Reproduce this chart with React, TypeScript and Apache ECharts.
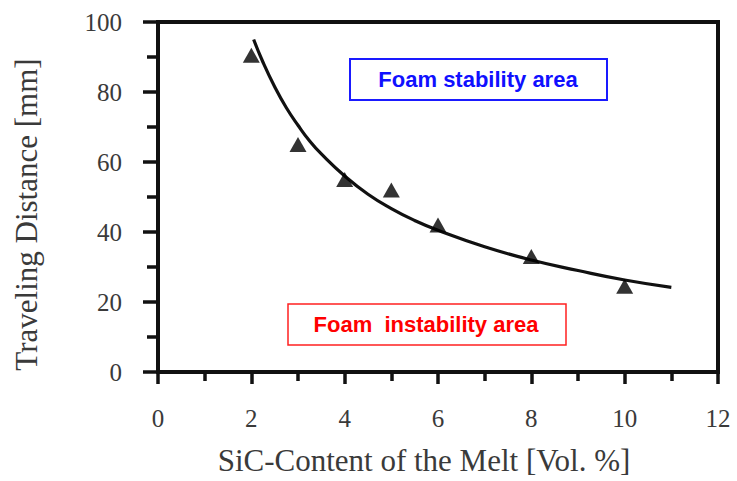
import React, { useEffect, useRef } from "react";
import * as echarts from "echarts";

// Measured points (triangles)
const pointX = [2, 3, 4, 5, 6, 8, 10];
const pointY = [90.5, 65, 55, 52, 42, 33, 24.5];

// Fitted curve
const curveX = [2.05, 2.25, 2.5, 2.75, 3, 3.25, 3.5, 4, 4.5, 5, 5.5, 6, 7, 8, 9, 10, 11];
const curveY = [95, 88.5, 81.5, 75.5, 70.5, 66, 62.3, 56, 50.8, 46.7, 43.3, 40.5, 35.8, 32, 29, 26.3, 24.2];

const xTicks = [0, 2, 4, 6, 8, 10, 12];
const yTicks = [0, 20, 40, 60, 80, 100];

const xTitle = "SiC-Content of the Melt [Vol. %]";
const yTitle = "Traveling Distance [mm]";
const stableLabel = "Foam stability area";
const unstableLabel = "Foam  instability area";

const SERIF = "'Liberation Serif', 'Times New Roman', serif";
const SANS = "'Liberation Sans', Arial, sans-serif";

export default function App() {
  const ref = useRef<HTMLDivElement>(null);

  useEffect(() => {
    if (!ref.current) return;
    const chart = echarts.init(ref.current, undefined, { renderer: "svg" });
    const curve = curveX.map((x, i) => [x, curveY[i]]);
    const pts = pointX.map((x, i) => [x, pointY[i]]);

    chart.setOption({
      animation: false,
      backgroundColor: "#ffffff",
      grid: {
        left: 158,
        right: 19,
        top: 22,
        bottom: 108,
        show: true,
        borderColor: "#111",
        borderWidth: 4,
        backgroundColor: "transparent",
      },
      xAxis: {
        type: "value",
        min: xTicks[0],
        max: xTicks[xTicks.length - 1],
        interval: 2,
        name: xTitle,
        nameLocation: "middle",
        nameGap: 73,
        nameTextStyle: {
          fontFamily: SERIF,
          fontSize: 31,
          color: "#3a3a3a",
          padding: [0, 28, 0, 0],
        },
        axisLine: { show: true, lineStyle: { color: "#111", width: 3 } },
        axisTick: { show: true, inside: false, length: 12, lineStyle: { color: "#111", width: 3.5 } },
        minorTick: { show: true, splitNumber: 2, length: 9, lineStyle: { color: "#111", width: 3.5 } },
        splitLine: { show: false },
        axisLabel: {
          fontFamily: SERIF,
          fontSize: 25,
          color: "#3a3a3a",
          margin: 34,
        },
      },
      yAxis: {
        type: "value",
        min: yTicks[0],
        max: yTicks[yTicks.length - 1],
        interval: 20,
        name: yTitle,
        nameLocation: "middle",
        nameGap: 116,
        nameRotate: 90,
        nameTextStyle: {
          fontFamily: SERIF,
          fontSize: 31,
          color: "#3a3a3a",
          padding: [0, 35, 0, 0],
        },
        axisLine: { show: true, lineStyle: { color: "#111", width: 4 } },
        axisTick: { show: true, inside: false, length: 15, lineStyle: { color: "#111", width: 3.5 } },
        minorTick: { show: true, splitNumber: 2, length: 11, lineStyle: { color: "#111", width: 3.5 } },
        splitLine: { show: false },
        axisLabel: {
          fontFamily: SERIF,
          fontSize: 25,
          color: "#3a3a3a",
          margin: 36,
        },
      },
      series: [
        {
          type: "line",
          data: curve,
          smooth: true,
          showSymbol: false,
          lineStyle: { color: "#111", width: 3.2 },
          z: 2,
        },
        {
          type: "scatter",
          data: pts,
          symbol: "triangle",
          symbolSize: [17, 15],
          itemStyle: { color: "#000" },
          z: 3,
        },
      ],
      graphic: [
        {
          type: "rect",
          shape: { x: 350, y: 59, width: 257, height: 41 },
          style: { fill: "#fff", stroke: "#1a1aff", lineWidth: 2 },
          z: 10,
        },
        {
          type: "text",
          x: 478,
          y: 79,
          style: {
            text: stableLabel,
            fill: "#1010ff",
            font: `bold 22px ${SANS}`,
            align: "center",
            verticalAlign: "middle",
          },
          z: 11,
        },
        {
          type: "rect",
          shape: { x: 288, y: 304, width: 278, height: 41 },
          style: { fill: "#fff", stroke: "#ff2020", lineWidth: 1.5 },
          z: 10,
        },
        {
          type: "text",
          x: 426,
          y: 324,
          style: {
            text: unstableLabel,
            fill: "#ff0000",
            font: `bold 22px ${SANS}`,
            align: "center",
            verticalAlign: "middle",
          },
          z: 11,
        },
      ],
    });

    return () => chart.dispose();
  }, []);

  return (
    <div
      ref={ref}
      style={{ position: "fixed", left: 0, top: 0, width: 737, height: 481, background: "#fff" }}
    />
  );
}
